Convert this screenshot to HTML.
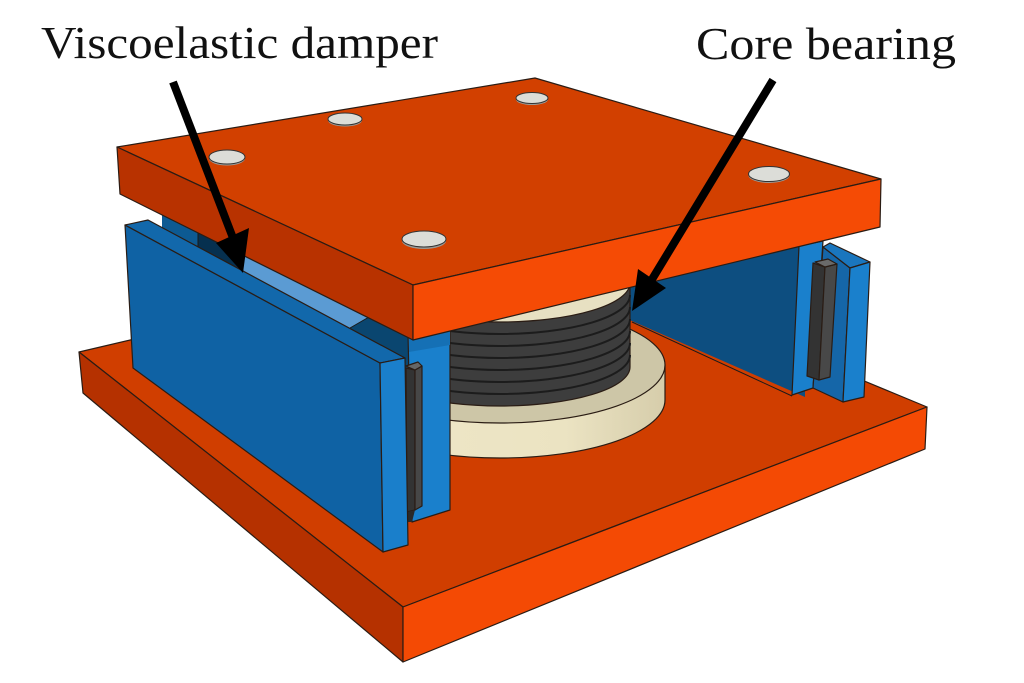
<!DOCTYPE html>
<html><head><meta charset="utf-8"><style>
html,body{margin:0;padding:0;background:#fff;}
svg{display:block;}
</style></head><body>
<svg width="1024" height="683" viewBox="0 0 1024 683" xmlns="http://www.w3.org/2000/svg">
<defs>
<linearGradient id="disk" x1="0" x2="1" y1="0" y2="0">
<stop offset="0" stop-color="#efe7c8"/><stop offset="0.7" stop-color="#ebe3c2"/><stop offset="1" stop-color="#d6cdab"/>
</linearGradient>
</defs>
<rect width="1024" height="683" fill="#fff"/>
<g stroke="#2a1c14" stroke-width="1.2" stroke-linejoin="round">
<!-- bottom plate -->
<polygon points="79,352 536,245 927,407 403,607" fill="#d03e00"/>
<polygon points="79,352 403,607 403,662 83,393" fill="#b53100"/>
<polygon points="403,607 927,407 925,449 403,662" fill="#f44a04"/>

<!-- right back panel -->
<polygon points="600,280 805,232 805,397 600,307" fill="#0d4e80" stroke="none"/>
<line x1="632" y1="322" x2="792" y2="396" stroke="#1a1a1a" stroke-width="1"/>

<!-- bearing disk -->
<path d="M335,365 L335,400 A165 58 0 0 0 665,400 L665,365 Z" fill="url(#disk)"/>
<ellipse cx="500" cy="365" rx="165" ry="58" fill="#cdc6a7"/>
<!-- rubber stack -->
<path d="M370,283 L370,367 A130 39 0 0 0 630,367 L630,283 Z" fill="#3d3d3d"/>
<g fill="none" stroke="#1c1c1c" stroke-width="2">
<path d="M370,295 A130 39 0 0 0 630,295"/>
<path d="M370,307 A130 39 0 0 0 630,307"/>
<path d="M370,319 A130 39 0 0 0 630,319"/>
<path d="M370,331 A130 39 0 0 0 630,331"/>
<path d="M370,343 A130 39 0 0 0 630,343"/>
<path d="M370,355 A130 39 0 0 0 630,355"/>
</g>
<ellipse cx="500" cy="283" rx="130" ry="39" fill="#e7e0c2"/>

<!-- left damper back pieces -->
<polygon points="162,214 198,232 198,247 162,228" fill="#0d5a92" stroke="none"/>
<polygon points="198,232 243,255 243,271 198,247" fill="#06304f" stroke="none"/>
<polygon points="243,255 369,317 350,328 243,271" fill="#5b9bd3" stroke="none"/>
<polygon points="369,317 413,339 413,372 380,365 350,328" fill="#0a4670" stroke="none"/>
<line x1="350" y1="328" x2="369" y2="317" stroke="#1a1a1a" stroke-width="1"/>
<line x1="198" y1="232" x2="198" y2="247" stroke="#1a1a1a" stroke-width="1"/>

<!-- left inner column -->
<polygon points="408,333 450,328 450,510 412,522" fill="#1a80cc"/>
<polygon points="409,334 450,329 450,345 409,352" fill="#1570b5" stroke="none"/>
<polygon points="406,368 415,370 415,510 407,512" fill="#333"/>
<polygon points="415,370 422,366 422,506 415,510" fill="#474747"/>
<polygon points="406,366 418,362 422,366 415,370" fill="#666"/>
<polygon points="407,512 415,510 412,522 408,522" fill="#2a2a2a" stroke="none"/>

<!-- right damper -->
<polygon points="799,246 823,241 813,388 792,395" fill="#1a80cc"/>
<polygon points="823,247 850,268 843,402 813,388" fill="#1566a8"/>
<polygon points="823,247 830,243 870,262 850,268" fill="#1a76be"/>
<polygon points="850,268 870,262 864,397 843,402" fill="#1a80cc"/>
<polygon points="813,263 825,267 819,380 807,376" fill="#333"/>
<polygon points="825,267 837,264 830,377 819,380" fill="#484848"/>
<polygon points="815,262 828,259 837,264 825,267" fill="#6a6a6a"/>

<!-- left outer panel -->
<polygon points="125,225 380,363 383,552 133,368" fill="#0f62a4"/>
<polygon points="125,225 148,220 405,358 380,363" fill="#1268ab"/>
<polygon points="380,363 405,358 408,545 383,552" fill="#1a7fcb"/>

<!-- top plate -->
<polygon points="117,147 535,78 881,179 413,285" fill="#d24000"/>
<polygon points="117,147 413,285 413,340 120,194" fill="#b83200"/>
<polygon points="413,285 881,179 880,227 413,340" fill="#f54b05"/>
</g>

<!-- bolts -->
<g stroke="#333" stroke-width="1">
<ellipse cx="227" cy="158.5" rx="18" ry="7" fill="#9a9a96" stroke="none"/>
<ellipse cx="227" cy="157" rx="18" ry="7" fill="#dcddd8"/>
<ellipse cx="345" cy="120.5" rx="17" ry="6" fill="#9a9a96" stroke="none"/>
<ellipse cx="345" cy="119" rx="17" ry="6" fill="#dcddd8"/>
<ellipse cx="424" cy="241" rx="22" ry="8" fill="#9a9a96" stroke="none"/>
<ellipse cx="424" cy="239" rx="22" ry="8" fill="#dcddd8"/>
<ellipse cx="532" cy="99.5" rx="16" ry="5.5" fill="#9a9a96" stroke="none"/>
<ellipse cx="532" cy="98" rx="16" ry="5.5" fill="#dcddd8"/>
<ellipse cx="769" cy="175.5" rx="20.5" ry="7.5" fill="#9a9a96" stroke="none"/>
<ellipse cx="769" cy="174" rx="20.5" ry="7.5" fill="#dcddd8"/>
</g>

<!-- arrows -->
<line x1="173" y1="82" x2="233" y2="238" stroke="#000" stroke-width="8"/>
<polygon points="243,273 216,243 249,228" fill="#000"/>
<line x1="773" y1="80" x2="651" y2="281" stroke="#000" stroke-width="8"/>
<polygon points="632,311 638,269 666,288" fill="#000"/>

<!-- labels -->
<text x="41" y="58" font-family="Liberation Serif, serif" font-size="46" fill="#111" textLength="397" lengthAdjust="spacingAndGlyphs">Viscoelastic damper</text>
<text x="696" y="59" font-family="Liberation Serif, serif" font-size="46" fill="#111" textLength="260" lengthAdjust="spacingAndGlyphs">Core bearing</text>
</svg>
</body></html>
